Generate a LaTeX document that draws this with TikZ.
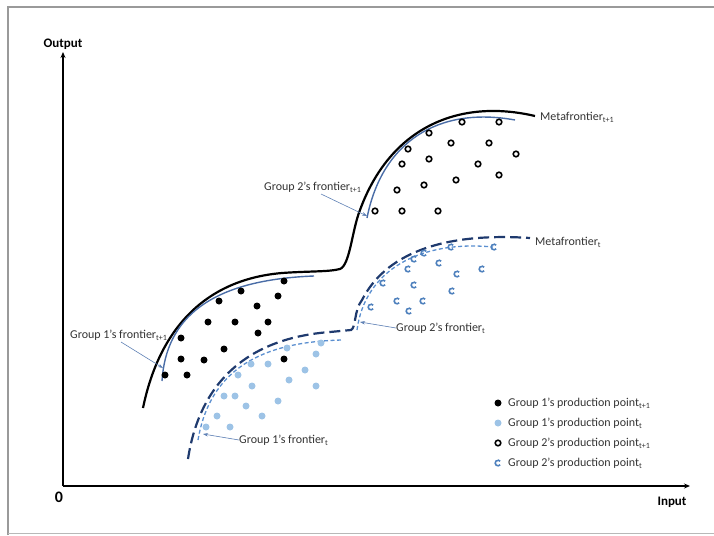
\documentclass[tikz,border=0pt]{standalone}
\usepackage{fontspec}
\setmainfont{Carlito}
\usetikzlibrary{arrows.meta}
\definecolor{navy}{HTML}{1F3A6E}
\definecolor{steel}{HTML}{4A6DA7}
\definecolor{dashblue}{HTML}{5B8FD0}
\definecolor{lightpt}{HTML}{9DC3E6}
\definecolor{cpt}{HTML}{4F81BD}
\definecolor{arrowblue}{HTML}{5E80B4}
\definecolor{framegray}{HTML}{9A9A9A}
\begin{document}
\begin{tikzpicture}[x=1pt,y=-1pt,
  lbl/.style={font=\fontsize{12}{14}\selectfont, inner sep=0pt, text=black!80},
  axlbl/.style={font=\fontsize{13}{15}\selectfont\bfseries, inner sep=0pt},
  axis/.style={line width=1.8pt, -{Stealth[length=6pt,width=5pt]}},
  metaA/.style={line width=2.2pt, black},
  metaB/.style={line width=2.2pt, navy, dash pattern=on 11pt off 5pt},
  grpA/.style={line width=1.4pt, steel},
  grpB/.style={line width=1.3pt, dashblue, dash pattern=on 4pt off 2.5pt},
  lblarrow/.style={line width=0.6pt, arrowblue, -{Stealth[length=5pt,width=3.5pt]}},
  ptA/.style={fill=black},
  ptB/.style={fill=lightpt},
  ptC/.style={draw=black, line width=1.6pt},
  ptD/.style={draw=cpt, line width=1.6pt}
]
\useasboundingbox (0,0) rectangle (714,535);
% frame
\draw[framegray, line width=1.2pt] (8,535) -- (8,7) -- (714,7);
\draw[framegray!70, line width=1.2pt] (8,533.5) -- (714,533.5);

% axes
\coordinate (O) at (63,486);
\coordinate (ytop) at (63,52);
\coordinate (xend) at (690,486);
\draw[axis] (O) -- (ytop);
\draw[axis] (O) -- (xend);
\node[axlbl] (outl) at (63,44) {Output};
\node[axlbl] (inl) at (672,502) {Input};
\node[font=\fontsize{16}{18}\selectfont\bfseries, inner sep=0pt] (zero) at (59,497) {0};

% Metafrontier t+1
\draw[metaA] (143,408) .. controls (158,335) and (200,280) .. (282,273)
  .. controls (310,271) and (328,272) .. (340,269)
  .. controls (350,265) and (352,230) .. (360,210)
  .. controls (390,128) and (458,98) .. (535,116);
% Group 1 frontier t+1
\draw[grpA] (162,381) .. controls (166,318) and (210,280) .. (314,276);
% Group 2 frontier t+1
\draw[grpA] (367,218) .. controls (382,142) and (438,106) .. (515,120);

% Metafrontier t
\draw[metaB] (188,459) .. controls (200,380) and (250,338) .. (330,332)
  -- (351,330) .. controls (356,328) and (354,310) .. (362,300)
  .. controls (385,255) and (440,232) .. (530,238);
% Group 1 frontier t
\draw[grpB] (198,440) .. controls (210,370) and (260,342) .. (342,340);
% Group 2 frontier t
\draw[grpB] (357,330) .. controls (365,270) and (420,240) .. (493,247);

% Group 1 points t+1
\foreach \x/\y in {165/375,187/375,181/359,204/360,181/338,224/349,284/359,208/322,235/322,268/322,258/333,219/301,257/306,241/291,278/296,284/281}
  \fill[ptA] (\x,\y) circle (3.5);
% Group 1 points t
\foreach \x/\y in {206/427,230/427,217/416,262/416,246/406,278/401,224/396,235/396,252/386,316/386,238/375,289/380,305/370,251/364,268/364,316/354,287/348,321/343}
  \fill[ptB] (\x,\y) circle (3.5);
% Group 2 points t+1
\foreach \x/\y in {462/122,499/122,429/133,451/143,489/143,408/149,516/154,402/164,429/159,478/164,499/175,397/190,424/185,456/180,375/211,402/211,438/211}
  \draw[ptC] (\x,\y) circle (2.8);
% Group 2 points t
\foreach \x/\y in {494/247,451/247,424/253,414/259,439/263,482/269,408/269,457/274,383/283,414/285,452/291,397/301,423/301,371/307,409/311}
  \draw[ptD] ([shift={(40:2.8)}]\x,\y) arc[start angle=40, end angle=320, radius=2.8];

% labels
\node[lbl, anchor=west] (mfa) at (540,117) {Metafrontier\textsubscript{t+1}};
\node[lbl, anchor=west] (mfb) at (535,242) {Metafrontier\textsubscript{t}};
\node[lbl, anchor=west] (g2a) at (264,187) {Group 2’s frontier\textsubscript{t+1}};
\node[lbl, anchor=west] (g1a) at (70,335) {Group 1’s frontier\textsubscript{t+1}};
\node[lbl, anchor=west] (g2b) at (396,328) {Group 2’s frontier\textsubscript{t}};
\node[lbl, anchor=west] (g1b) at (239,440) {Group 1’s frontier\textsubscript{t}};

% label arrows
\coordinate (g2aS) at (321,194);
\coordinate (g2aE) at (367,216);
\coordinate (g1aS) at (121,342);
\coordinate (g1aE) at (163,368);
\coordinate (g2bE) at (360,322);
\coordinate (g1bE) at (203,434);
\draw[lblarrow] (g2aS) -- (g2aE);
\draw[lblarrow] (g1aS) -- (g1aE);
\draw[lblarrow] (g2b.west) -- (g2bE);
\draw[lblarrow] (g1b.west) -- (g1bE);

% legend
\fill[ptA] (498,403) circle (3.5);
\fill[ptB] (498,423) circle (3.5);
\draw[ptC] (498,443) circle (2.8);
\draw[ptD] ([shift={(40:2.8)}]498,463) arc[start angle=40, end angle=320, radius=2.8];
\node[lbl, anchor=west] (lg1) at (508,403) {Group 1’s production point\textsubscript{t+1}};
\node[lbl, anchor=west] (lg2) at (508,423) {Group 1’s production point\textsubscript{t}};
\node[lbl, anchor=west] (lg3) at (508,443) {Group 2’s production point\textsubscript{t+1}};
\node[lbl, anchor=west] (lg4) at (508,463) {Group 2’s production point\textsubscript{t}};
\end{tikzpicture}
\end{document}
